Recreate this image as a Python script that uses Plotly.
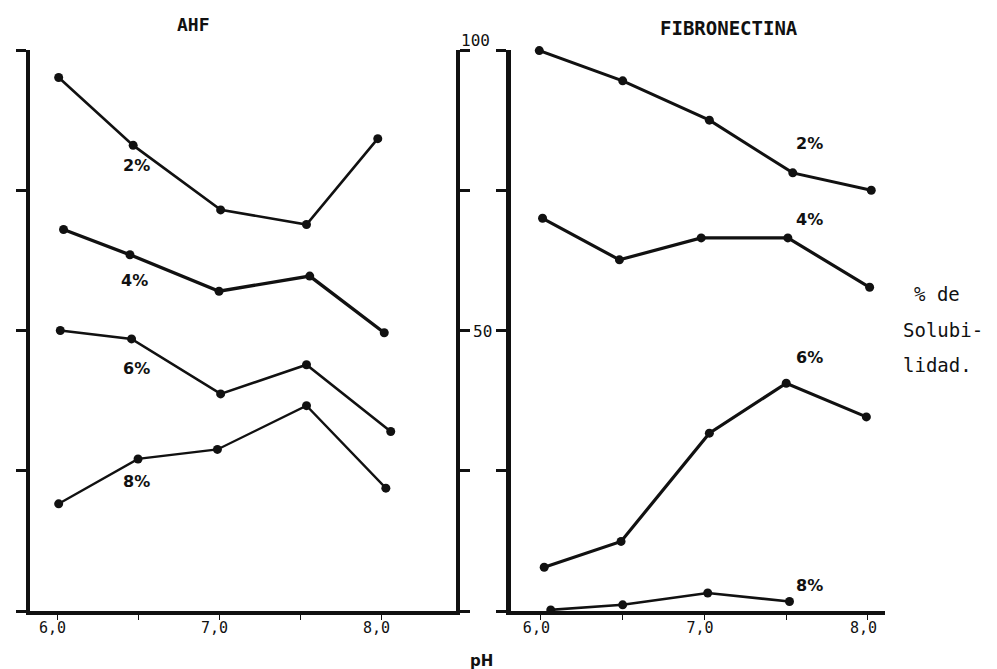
import plotly.graph_objects as go

# ---- data ----
series_labels = ["2%", "4%", "6%", "8%"]

ahf_ph_2 = [6.01, 6.47, 7.01, 7.54, 7.98]
ahf_2 = [95.1, 83.0, 71.5, 68.9, 84.2]
ahf_ph_4 = [6.04, 6.45, 7.00, 7.56, 8.02]
ahf_4 = [68.0, 63.5, 57.0, 59.7, 49.6]
ahf_ph_6 = [6.02, 6.46, 7.01, 7.54, 8.06]
ahf_6 = [50.0, 48.5, 38.7, 43.9, 32.0]
ahf_ph_8 = [6.01, 6.50, 6.99, 7.54, 8.03]
ahf_8 = [19.1, 27.1, 28.8, 36.6, 21.9]

fib_ph_2 = [5.99, 6.50, 7.03, 7.54, 8.02]
fib_2 = [99.9, 94.5, 87.5, 78.1, 75.0]
fib_ph_4 = [6.01, 6.48, 6.98, 7.51, 8.01]
fib_4 = [70.0, 62.6, 66.5, 66.5, 57.7]
fib_ph_6 = [6.02, 6.49, 7.03, 7.50, 7.99]
fib_6 = [7.8, 12.4, 31.7, 40.6, 34.6]
fib_ph_8 = [6.06, 6.50, 7.02, 7.52]
fib_8 = [0.2, 1.1, 3.2, 1.7]

x_tickvals = [6.0, 6.5, 7.0, 7.5, 8.0]
x_ticktext = ["6,0\u00a0", "", "7,0\u00a0", "", "8,0\u00a0"]
y_tickvals = [0, 25, 50, 75, 100]

# label anchor positions (pH, % value) for the series labels
ahf_label_pos = [(6.49, 79.5), (6.48, 59.0), (6.49, 43.3), (6.49, 23.0)]
fib_label_pos = [(7.64, 83.4), (7.64, 69.7), (7.64, 45.1), (7.64, 4.6)]

BLACK = "#111111"
MONO = "DejaVu Sans Mono"

# plot area spans pixel rows 42..603
def py(pix):
    return (603 - pix) / 561.0

def px(pix):
    return pix / 997.0

fig = go.Figure()

ahf = [(ahf_ph_2, ahf_2, 2.6), (ahf_ph_4, ahf_4, 3.4), (ahf_ph_6, ahf_6, 2.6), (ahf_ph_8, ahf_8, 2.3)]
fib = [(fib_ph_2, fib_2, 3.0), (fib_ph_4, fib_4, 3.2), (fib_ph_6, fib_6, 3.2), (fib_ph_8, fib_8, 2.6)]

for (xs, ys, w), name in zip(ahf, series_labels):
    fig.add_trace(go.Scatter(x=xs, y=ys, mode="lines+markers", name="AHF " + name,
                             line=dict(color=BLACK, width=w),
                             marker=dict(color=BLACK, size=9),
                             xaxis="x", yaxis="y", cliponaxis=False))
for (xs, ys, w), name in zip(fib, series_labels):
    fig.add_trace(go.Scatter(x=xs, y=ys, mode="lines+markers", name="Fibronectina " + name,
                             line=dict(color=BLACK, width=w),
                             marker=dict(color=BLACK, size=9),
                             xaxis="x2", yaxis="y2", cliponaxis=False))

annotations = []
for (ax, ay), t in zip(ahf_label_pos, series_labels):
    annotations.append(dict(x=ax, y=ay, xref="x", yref="y", text="<b>" + t + "</b>", showarrow=False,
                            xanchor="center", yanchor="middle",
                            font=dict(family="DejaVu Sans", size=16, color=BLACK)))
for (ax, ay), t in zip(fib_label_pos, series_labels):
    annotations.append(dict(x=ax, y=ay, xref="x2", yref="y2", text="<b>" + t + "</b>", showarrow=False,
                            xanchor="center", yanchor="middle",
                            font=dict(family="DejaVu Sans", size=16, color=BLACK)))

def ptext(x, y, text, size, family=MONO, xanchor="center"):
    return dict(x=px(x), y=py(y), xref="paper", yref="paper", text=text, showarrow=False,
                xanchor=xanchor, yanchor="middle", font=dict(family=family, size=size, color=BLACK))

annotations += [
    ptext(185, 17, "<b>AHF</b>", 18),
    ptext(721, 20, "<b>FIBRONECTINA</b>", 19),
    ptext(473, 653, "<b>pH</b>", 15, family="DejaVu Sans"),
    ptext(904, 286, "% de", 19, xanchor="left"),
    ptext(893, 322, "Solubi-", 19, xanchor="left"),
    ptext(893, 357, "lidad.", 19, xanchor="left"),
    ptext(467, 32, "100", 16),
    ptext(474, 323, "50", 16),
]

axis_common = dict(showgrid=False, zeroline=False, showline=True, linecolor=BLACK,
                   tickcolor=BLACK, tickfont=dict(family=MONO, size=15, color=BLACK))

fig.update_layout(
    width=997, height=669,
    margin=dict(l=0, r=0, t=42, b=66),
    paper_bgcolor="white", plot_bgcolor="white",
    showlegend=False,
    annotations=annotations,
    xaxis=dict(domain=[px(22), px(448)], range=[5.833, 8.463], anchor="y",
               tickvals=x_tickvals, ticktext=x_ticktext, ticks="outside", ticklen=5,
               ticklabelstandoff=-5, linewidth=4, **axis_common),
    yaxis=dict(domain=[0, 1], range=[0, 100], anchor="x", tickvals=y_tickvals,
               showticklabels=False, ticks="outside", ticklen=10, tickwidth=3,
               mirror="ticks", linewidth=4, **axis_common),
    xaxis2=dict(domain=[px(503), px(877)], range=[5.817, 8.104], anchor="y2",
                tickvals=x_tickvals, ticktext=x_ticktext, ticks="outside", ticklen=5,
                ticklabelstandoff=-5, linewidth=4, **axis_common),
    yaxis2=dict(domain=[0, 1], range=[0, 100], anchor="x2", tickvals=y_tickvals,
                showticklabels=False, ticks="outside", ticklen=10, tickwidth=3,
                linewidth=5, **axis_common),
    yaxis3=dict(range=[0, 100], anchor="x2", overlaying="y2", side="right",
                tickvals=y_tickvals, showticklabels=False, ticks="inside", ticklen=10,
                tickwidth=3, linewidth=4, **axis_common),
)

fig.write_html("out.html")
